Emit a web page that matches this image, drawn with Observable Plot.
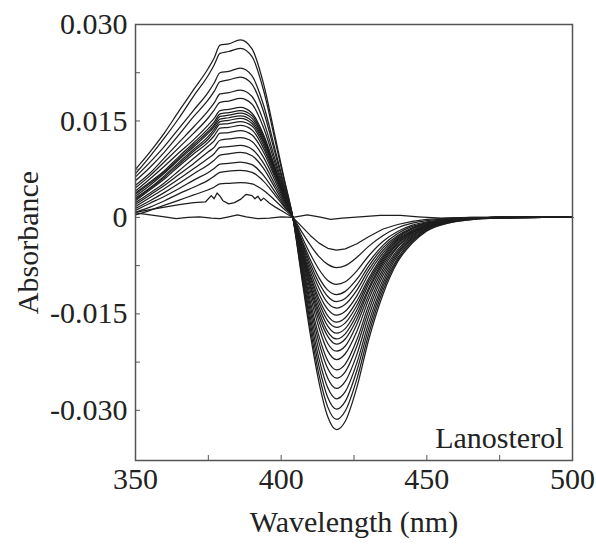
<!DOCTYPE html>
<html><head><meta charset="utf-8">
<script src="https://cdn.jsdelivr.net/npm/d3@7"></script>
<script src="https://cdn.jsdelivr.net/npm/@observablehq/plot@0.6"></script>
<style>body{margin:0;background:#fff}</style>
</head><body><div id="chart"></div>
<script>
// Difference spectra, values in milli-absorbance units (x 10^-3)
const wavelengths = [350,355,360,365,370,375,377,379,382,386,390,394,398,401,404,407,410,413,416,419,422,426,430,435,440,445,450,458,466,475,490,500];
const c01 = [7.5,10.2,13.2,16.6,19.9,23.2,24.8,26.8,27.0,27.6,26.2,20.7,12.4,6.1,0,-9.2,-18.2,-25.7,-31.0,-33.0,-31.7,-26.4,-19.1,-11.9,-6.9,-4.0,-2.1,-0.8,-0.3,-0.1,0,0];
const c02 = [6.8,9.5,12.4,15.5,18.9,22.1,23.7,25.5,25.8,26.3,25.0,19.7,11.8,5.8,0,-8.8,-17.3,-24.5,-29.5,-31.4,-30.1,-25.1,-18.2,-11.3,-6.6,-3.8,-2.0,-0.8,-0.3,-0.1,0,0];
const c03 = [6.3,8.6,11.1,13.9,16.7,19.5,20.9,22.5,22.7,23.2,22.0,17.4,10.4,5.1,0,-8.3,-16.4,-23.2,-28.0,-29.8,-28.6,-23.8,-17.3,-10.7,-6.3,-3.6,-1.9,-0.7,-0.2,-0.1,0,0];
const c04 = [5.7,7.8,10.2,12.9,15.7,18.3,19.6,21.1,21.4,21.8,20.7,16.4,9.8,4.8,0,-7.9,-15.5,-22.0,-26.5,-28.2,-27.1,-22.6,-16.4,-10.2,-5.9,-3.4,-1.8,-0.7,-0.2,-0.1,0,0];
const c05 = [5.0,6.9,9.3,11.7,14.1,16.6,17.8,19.2,19.4,19.8,18.8,14.9,8.9,4.4,0,-7.4,-14.6,-20.7,-25.0,-26.6,-25.5,-21.3,-15.4,-9.6,-5.6,-3.2,-1.7,-0.7,-0.2,-0.1,0,0];
const c06 = [4.6,6.5,8.7,10.9,13.1,15.5,16.7,17.9,18.1,18.5,17.6,13.9,8.3,4.1,0,-7.0,-13.8,-19.5,-23.5,-25.0,-24.0,-20.0,-14.5,-9.0,-5.3,-3.0,-1.6,-0.6,-0.2,-0.1,0,0];
const c07 = [4.1,6.0,8.0,10.1,12.1,14.4,15.4,16.6,16.8,17.1,16.2,12.8,7.7,3.8,0,-6.6,-13.0,-18.5,-22.3,-23.7,-22.8,-19.0,-13.7,-8.5,-5.0,-2.8,-1.5,-0.6,-0.2,0,0,0];
const c08 = [3.8,5.5,7.3,9.5,11.6,13.8,14.8,16.1,16.3,16.6,15.8,12.5,7.5,3.7,0,-6.2,-12.2,-17.2,-20.8,-22.1,-21.2,-17.7,-12.8,-8.0,-4.6,-2.7,-1.4,-0.6,-0.2,0,0,0];
const c09 = [3.6,5.3,7.1,9.2,11.3,13.4,14.4,15.7,15.9,16.2,15.4,12.2,7.3,3.6,0,-5.8,-11.4,-16.2,-19.6,-20.8,-20.0,-16.6,-12.1,-7.5,-4.4,-2.5,-1.4,-0.5,-0.2,0,0,0];
const c10 = [3.3,5.0,6.9,9.0,11.0,13.1,14.1,15.3,15.5,15.8,15.0,11.9,7.1,3.5,0,-5.5,-10.8,-15.4,-18.5,-19.7,-18.9,-15.8,-11.4,-7.1,-4.1,-2.4,-1.3,-0.5,-0.2,0,0,0];
const c11 = [3.0,4.6,6.5,8.6,10.6,12.6,13.7,14.9,15.1,15.4,14.6,11.6,6.9,3.4,0,-5.3,-10.4,-14.7,-17.8,-18.9,-18.1,-15.1,-11.0,-6.8,-4.0,-2.3,-1.2,-0.5,-0.2,0,0,0];
const c12 = [2.8,4.5,6.3,8.3,10.3,12.2,13.3,14.5,14.6,14.9,14.2,11.2,6.7,3.3,0,-5.0,-9.9,-14.0,-16.9,-18.0,-17.3,-14.4,-10.4,-6.5,-3.8,-2.2,-1.2,-0.5,-0.1,0,0,0];
const c13 = [2.6,4.3,6.0,8.0,9.9,11.7,12.7,13.9,14.0,14.3,13.6,10.7,6.4,3.1,0,-4.8,-9.4,-13.3,-16.1,-17.1,-16.4,-13.7,-9.9,-6.2,-3.6,-2.1,-1.1,-0.4,-0.1,0,0,0];
const c14 = [2.3,3.8,5.4,7.3,9.2,11.1,11.9,13.1,13.2,13.5,12.8,10.1,6.1,3.0,0,-4.6,-9.0,-12.7,-15.3,-16.3,-15.6,-13.0,-9.5,-5.9,-3.4,-2.0,-1.1,-0.4,-0.1,0,0,0];
const c15 = [2.0,3.5,5.0,6.7,8.4,10.2,10.9,12.0,12.2,12.4,11.8,9.3,5.6,2.7,0,-4.3,-8.4,-11.9,-14.3,-15.2,-14.6,-12.2,-8.8,-5.5,-3.2,-1.8,-1.0,-0.4,-0.1,0,0,0];
const c16 = [1.7,3.1,4.5,6.0,7.6,9.2,9.9,10.9,11.0,11.2,10.6,8.4,5.0,2.5,0,-3.9,-7.8,-11.0,-13.3,-14.1,-13.5,-11.3,-8.2,-5.1,-3.0,-1.7,-0.9,-0.4,-0.1,0,0,0];
const c17 = [1.4,2.6,3.9,5.3,6.8,8.2,8.9,9.7,9.9,10.1,9.6,7.6,4.5,2.2,0,-3.7,-7.2,-10.2,-12.3,-13.1,-12.6,-10.5,-7.6,-4.7,-2.8,-1.6,-0.9,-0.3,-0.1,0,0,0];
const c18 = [1.1,2.2,3.3,4.5,5.8,7.0,7.6,8.3,8.4,8.6,8.2,6.5,3.9,1.9,0,-3.4,-6.6,-9.4,-11.3,-12.0,-11.5,-9.6,-7.0,-4.3,-2.5,-1.4,-0.8,-0.3,-0.1,0,0,0];
const c19 = [0.8,1.6,2.6,3.7,4.7,5.8,6.4,7.0,7.2,7.3,7.0,5.6,3.4,1.7,0,-2.9,-5.7,-8.1,-9.8,-10.4,-10.0,-8.3,-6.0,-3.7,-2.2,-1.2,-0.7,-0.3,-0.1,0,0,0];
const c20 = [0.4,1.1,1.9,2.7,3.5,4.3,4.7,5.2,5.3,5.4,5.2,4.2,2.6,1.3,0,-2.2,-4.3,-6.1,-7.3,-7.8,-7.5,-6.2,-4.5,-2.8,-1.6,-0.9,-0.5,-0.2,-0.1,0,0,0];
// first titration step (noisy)
const wavelengthsNoisy = [350,355,360,365,370,374,376,377,378,379,380,382,384,386,388,390,391,392,393,394,396,398,401,404,407,410,413,416,419,422,426,430,435,440,445,450,458,466,475,490,500];
const cNoisy = [0.8,1.2,1.6,2.0,2.3,2.4,3.4,2.9,3.8,3.3,2.6,2.1,2.3,2.8,3.6,3.4,2.9,3.3,2.6,3.0,2.2,1.6,0.8,0,-1.4,-2.8,-4.0,-4.8,-5.1,-4.9,-4.1,-3.0,-1.8,-1.1,-0.6,-0.3,-0.1,0,0,0,0];
// baseline
const wavelengthsBase = [350,355,360,364,368,372,376,379,382,385,388,392,396,400,404,409,413,417,421,427,434,441,447,455,465,480,490,500];
const cBase = [0.7,0.4,0.1,-0.2,0,0.1,-0.1,-0.2,0.1,0.4,0.1,-0.2,-0.1,0.1,0,0.4,0.1,-0.3,-0.1,0.1,0.3,0.3,0.1,-0.1,0,0,0.1,0];

const xTickValues = [350, 400, 450, 500];
const xTickLabels = ["350", "400", "450", "500"];
const xMinorTicks = [375, 400, 425, 450, 475];
const yTickValues = [0.030, 0.015, 0, -0.015, -0.030];
const yTickLabels = ["0.030", "0.015", "0", "-0.015", "-0.030"];
const yMinorTicks = [0.0225, 0.015, 0.0075, 0, -0.0075, -0.015, -0.0225, -0.030];
const xLabel = "Wavelength (nm)";
const yLabel = "Absorbance";
const annotation = "Lanosterol";

const mainCurves = [c01,c02,c03,c04,c05,c06,c07,c08,c09,c10,c11,c12,c13,c14,c15,c16,c17,c18,c19,c20];
const smooth = [];
mainCurves.forEach((vals, i) => vals.forEach((v, j) => smooth.push({id: i, w: wavelengths[j], a: v / 1000})));
const rough = [];
cNoisy.forEach((v, j) => rough.push({id: "noisy", w: wavelengthsNoisy[j], a: v / 1000}));
cBase.forEach((v, j) => rough.push({id: "base", w: wavelengthsBase[j], a: v / 1000}));

const ink = "#1e1e1e";
const fs = 30;
const chart = Plot.plot({
  width: 596, height: 548,
  marginTop: 24, marginBottom: 88, marginLeft: 135, marginRight: 24,
  style: {fontFamily: "'Liberation Serif', 'Times New Roman', serif", fontSize: fs + "px", color: "#222", background: "#fff"},
  x: {domain: [350, 500]},
  y: {domain: [-0.0378, 0.030]},
  marks: [
    Plot.line(smooth, {x: "w", y: "a", z: "id", stroke: ink, strokeWidth: 1.25, curve: "monotone-x"}),
    Plot.line(rough, {x: "w", y: "a", z: "id", stroke: ink, strokeWidth: 1.25, curve: "linear"}),
    Plot.frame({stroke: "#555", strokeWidth: 1.5}),
    Plot.axisX({ticks: xTickValues, tickFormat: d => xTickLabels[xTickValues.indexOf(d)], tickSize: 0, tickPadding: 7, label: null}),
    Plot.axisX({ticks: xMinorTicks, tickSize: 5, dy: -5, fill: "none", stroke: "#555"}),
    Plot.axisY({ticks: yTickValues, tickFormat: d => yTickLabels[yTickValues.indexOf(d)], tickSize: 0, tickPadding: 8, label: null}),
    Plot.axisY({ticks: yMinorTicks, tickSize: 5, dx: 5, fill: "none", stroke: "#555"}),
    Plot.text([xLabel], {text: d => d, frameAnchor: "bottom", dy: 62, lineAnchor: "middle", textAnchor: "middle", fontSize: fs, fill: "#222"}),
    Plot.text([yLabel], {text: d => d, frameAnchor: "left", dx: -107, rotate: -90, lineAnchor: "middle", textAnchor: "middle", fontSize: fs, fill: "#222"}),
    Plot.text([annotation], {text: d => d, frameAnchor: "bottom-right", dx: -9, dy: -22, textAnchor: "end", lineAnchor: "middle", fontSize: fs, fill: "#222"})
  ]
});
document.getElementById("chart").appendChild(chart);
</script>
</body></html>
